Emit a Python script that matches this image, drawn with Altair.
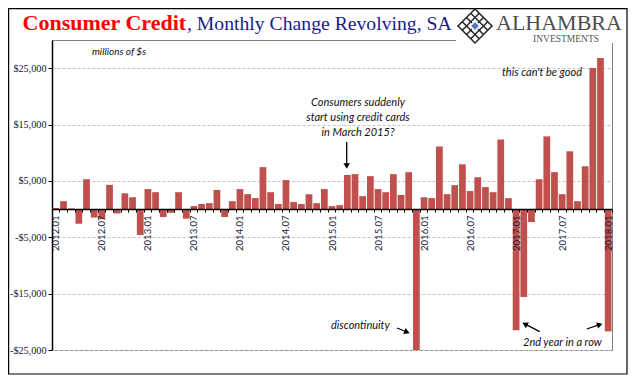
import json
import altair as alt
import pandas as pd

# ---------------- data ----------------
months = [f"{y}.{m:02d}" for y in range(2012, 2019) for m in range(1, 13)][:73]
changes = [
    200, 1400, 100, -2600, 5300, -1500, -1800, 4300, -800, 2800, 2100, -4600,      # 2012
    3550, 3000, -1400, -650, 3000, -1700, 530, 900, 1050, 3400, -1400, 1400,        # 2013
    3550, 2650, 1950, 7450, 3000, 900, 5150, 1250, 900, 2650, 1050, 3550,           # 2014
    530, 700, 6050, 6200, 2300, 5850, 3550, 3000, 6200, 2500, 6550, -25000,         # 2015
    2100, 1950, 11100, 2650, 4250, 7950, 3200, 5650, 3900, 3000, 12350, 1950,       # 2016
    -21500, -15600, -2300, 5300, 12900, 6550, 2650, 10250, 1400, 7600, 25050, 26800,  # 2017
    -21700,                                                                          # 2018
]
y_ticks = [25000, 15000, 5000, -5000, -15000, -25000]
label_months = [m for m in months if m.endswith(".01") or m.endswith(".07")]

df = pd.DataFrame({"month": months, "change": changes})

W, H = 560, 310
YMIN, YMAX = -25000, 30000
zero_from_bottom = (0 - YMIN) / (YMAX - YMIN) * H

x_scale = alt.Scale(domain=months, paddingInner=0.12, paddingOuter=0.06)
y_scale = alt.Scale(domain=[YMIN, YMAX], nice=False, zero=False)

x_label_expr = "indexof(%s, datum.value) >= 0 ? datum.value : ''" % json.dumps(label_months)
y_label_expr = "(datum.value < 0 ? '-' : '') + '$' + format(abs(datum.value), ',')"

bars = alt.Chart(df).mark_bar(color="#C0504D", clip=True).encode(
    x=alt.X(
        "month:O", scale=x_scale, sort=months,
        axis=alt.Axis(
            title=None, orient="bottom", offset=-zero_from_bottom,
            labelExpr=x_label_expr, labelAngle=270, labelFont="Lato",
            labelFontSize=9.5, labelColor="#1b1b3a", labelPadding=3,
            labelOverlap=False, labelBound=False, labelFlush=False,
            tickColor="black", tickSize=3, tickBand="extent",
            domainColor="black", domainWidth=1.5, grid=False, zindex=1,
        ),
    ),
    y=alt.Y(
        "change:Q", scale=y_scale,
        axis=alt.Axis(
            title=None, values=y_ticks, labelExpr=y_label_expr,
            labelFont="Liberation Serif", labelFontSize=10.2, labelColor="#15152e",
            labelPadding=2, tickColor="black", tickSize=4,
            domainColor="black", domainWidth=1.5,
            grid=True, gridColor="#c4c4c4", gridDash=[3, 2], gridWidth=1,
        ),
    ),
)

one = alt.Data(values=[{"k": 0}])


def txt(text, x, y, size=11, italic=True, align="left", color="#111111",
        font="Lato", weight="normal", baseline="middle", line_height=None):
    kw = dict(text=text, font=font, fontSize=size,
              fontStyle="italic" if italic else "normal", align=align,
              baseline=baseline, color=color, fontWeight=weight)
    if line_height is not None:
        kw["lineHeight"] = line_height
    return alt.Chart(one).mark_text(**kw).encode(x=alt.value(x), y=alt.value(y))


def arrow(x1, y1, x2, y2, angle, hx, hy):
    line = alt.Chart(one).mark_rule(color="black", strokeWidth=1.3).encode(
        x=alt.value(x1), y=alt.value(y1), x2=alt.value(x2), y2=alt.value(y2))
    head = alt.Chart(one).mark_point(shape="triangle", filled=True, color="black",
                                     size=42, angle=angle, opacity=1).encode(
        x=alt.value(hx), y=alt.value(hy))
    return [line, head]


layers = [bars]

# white box behind the logo (hides the top frame line there)
layers.append(alt.Chart(one).mark_rect(color="white").encode(
    x=alt.value(404), x2=alt.value(566), y=alt.value(-31), y2=alt.value(3)))

# outer border
layers.append(alt.Chart(one).mark_rect(fill=None, stroke="black", strokeWidth=1.2, filled=False).encode(
    x=alt.value(-43.4), x2=alt.value(575), y=alt.value(-31.4), y2=alt.value(334)))

# title
layers.append(txt("Consumer Credit", -29.4, -10.5, size=22, italic=False,
                  color="#ff0000", font="Liberation Serif", weight="bold", baseline="alphabetic"))
layers.append(txt(", Monthly Change Revolving, SA", 135, -10.5, size=19.7, italic=False,
                  color="#1c1c8c", font="Liberation Serif", baseline="alphabetic"))

# logo
lattice = "M0,-1L1,0L0,1L-1,0Z"
for c in (-0.5, 0.0, 0.5):
    lattice += "M%.2f,%.2fL%.2f,%.2f" % ((c - 1) / 2, (c + 1) / 2, (c + 1) / 2, (c - 1) / 2)
    lattice += "M%.2f,%.2fL%.2f,%.2f" % ((c - 1) / 2, (-1 - c) / 2, (c + 1) / 2, (1 - c) / 2)
layers.append(alt.Chart(one).mark_point(shape=lattice, filled=False, color="#2a2a2a",
                                        strokeWidth=1.6, size=1150, opacity=1).encode(
    x=alt.value(423), y=alt.value(-14)))
layers.append(alt.Chart(one).mark_point(shape="diamond", filled=True, color="white",
                                        size=150, opacity=1).encode(x=alt.value(423), y=alt.value(-14)))
layers.append(alt.Chart(one).mark_point(shape="diamond", filled=True, color="#4f74c0",
                                        size=60, opacity=1).encode(x=alt.value(423), y=alt.value(-14)))
layers.append(txt("ALHAMBRA", 444, -10, size=22, italic=False, color="#4d4d4d",
                  font="Liberation Serif", baseline="alphabetic"))
layers.append(txt("INVESTMENTS", 514, 2, size=9.5, italic=False, color="#555555",
                  font="Liberation Serif", align="center", baseline="alphabetic"))

# annotations
layers.append(txt("millions of $s", 40, 12, size=10))
layers.append(txt(["Consumers suddenly", "start using credit cards", "in March 2015?"],
                  306, 62.7, size=11, align="center", line_height=15))
layers.append(txt("this can't be good", 530, 33.3, size=11, align="right"))
layers.append(txt("discontinuity", 279, 286, size=11))
layers.append(txt("2nd year in a row", 471, 303, size=11))

layers += arrow(294.7, 102, 294.7, 125, 180, 294.7, 125)
layers += arrow(345, 288, 355, 292, 112.6, 354.2, 291.8)
layers += arrow(487.7, 291.7, 473.7, 284.4, 297.5, 473.7, 284.4)
layers += arrow(534.7, 289, 546.9, 284.9, 71.6, 546.9, 284.9)

chart = alt.layer(*layers).properties(
    width=W, height=H,
    autosize=alt.AutoSizeParams(type="none"),
    padding={"left": 44, "top": 32, "right": 24, "bottom": 30},
).configure_view(stroke="#808080", strokeWidth=1)

chart.save("out.html", embed_options={"renderer": "svg", "actions": False})
